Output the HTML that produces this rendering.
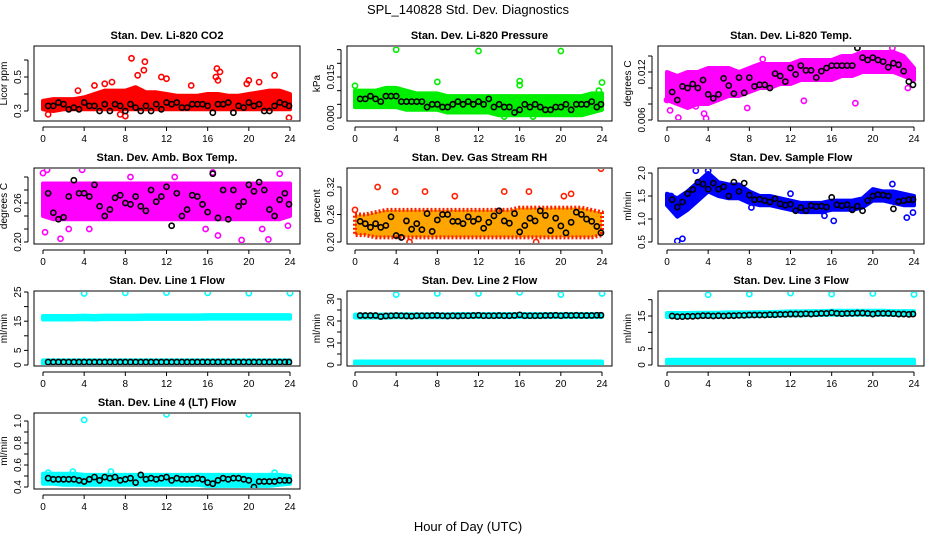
<!DOCTYPE html>
<html><head><meta charset="utf-8">
<style>
body{margin:0;background:#fff;}
svg{display:block;font-family:"Liberation Sans",sans-serif;}
</style></head>
<body>
<svg id="chart" width="936" height="540" viewBox="0 0 936 540">
<text x="468" y="14" text-anchor="middle" font-size="13">SPL_140828  Std. Dev. Diagnostics</text>
<text x="468" y="531" text-anchor="middle" font-size="13">Hour of Day (UTC)</text>
</svg>
<script>
const bandHours=[0,1,2,3,4,5,6,7,8,9,10,11,12,13,14,15,16,17,18,19,20,21,22,23,24];
const blackHours=[0.5,1,1.5,2,2.5,3,3.5,4,4.5,5,5.5,6,6.5,7,7.5,8,8.5,9,9.5,10,10.5,11,11.5,12,12.5,13,13.5,14,14.5,15,15.5,16,16.5,17,17.5,18,18.5,19,19.5,20,20.5,21,21.5,22,22.5,23,23.5,23.9];
const xTicks=[0,4,8,12,16,20,24];

const co2Lo=[0.31,0.30,0.31,0.31,0.31,0.31,0.31,0.31,0.31,0.31,0.31,0.31,0.31,0.31,0.31,0.31,0.31,0.31,0.31,0.31,0.31,0.31,0.31,0.31,0.31];
const co2Hi=[0.36,0.37,0.37,0.37,0.38,0.40,0.42,0.42,0.42,0.44,0.41,0.41,0.40,0.39,0.39,0.39,0.40,0.40,0.39,0.39,0.40,0.41,0.42,0.42,0.40];
const co2OutX=[8.6,9.9,9.8,6,6.7,9.2,11.5,12,16.9,17.2,16.8,17,22.5,20,19.8,23.9,8,3.4,5,14.4,21,7.5,0.5];
const co2OutY=[0.61,0.59,0.54,0.46,0.47,0.51,0.50,0.49,0.55,0.53,0.50,0.48,0.51,0.48,0.46,0.26,0.27,0.42,0.45,0.45,0.47,0.28,0.28];
const co2Black=[0.33,0.33,0.35,0.34,0.31,0.32,0.31,0.35,0.33,0.33,0.30,0.34,0.30,0.34,0.33,0.30,0.34,0.32,0.30,0.33,0.30,0.34,0.31,0.35,0.34,0.35,0.32,0.32,0.34,0.34,0.34,0.33,0.29,0.34,0.34,0.35,0.29,0.33,0.32,0.35,0.33,0.34,0.30,0.30,0.33,0.35,0.34,0.33];

const presLo=[0.004,0.004,0.004,0.004,0.004,0.003,0.003,0.003,0.003,0.002,0.002,0.002,0.002,0.002,0.001,0.001,0.001,0.001,0.001,0.001,0.001,0.001,0.001,0.002,0.003];
const presHi=[0.010,0.010,0.010,0.011,0.011,0.010,0.009,0.009,0.009,0.008,0.008,0.008,0.008,0.008,0.008,0.008,0.008,0.008,0.008,0.008,0.008,0.008,0.008,0.009,0.009];
const presOutX=[4,12,20,8,0,16,16,24,23.7,14.5,17.3];
const presOutY=[0.025,0.0245,0.0245,0.0132,0.0118,0.0135,0.012,0.013,0.010,0.0005,0.0005];
const presBlack=[0.007,0.007,0.008,0.007,0.006,0.008,0.008,0.008,0.006,0.006,0.006,0.006,0.006,0.004,0.005,0.005,0.004,0.004,0.005,0.006,0.005,0.006,0.005,0.006,0.005,0.007,0.004,0.005,0.004,0.004,0.002,0.003,0.005,0.004,0.005,0.004,0.003,0.003,0.004,0.004,0.005,0.003,0.005,0.005,0.005,0.006,0.004,0.005];

const tempLo=[0.0085,0.008,0.0075,0.008,0.008,0.0085,0.009,0.009,0.0095,0.0100,0.010,0.0105,0.0105,0.011,0.011,0.011,0.011,0.0115,0.0115,0.012,0.012,0.012,0.012,0.0115,0.011];
const tempHi=[0.012,0.0115,0.012,0.012,0.0125,0.0125,0.0125,0.012,0.0125,0.013,0.013,0.013,0.013,0.0135,0.0135,0.0135,0.0135,0.014,0.014,0.0145,0.0145,0.0145,0.0145,0.014,0.0125];
const tempOutX=[0.3,1.1,3.6,3.8,7.8,13.3,18.3,21.9,0,2.8,9.3,23.4];
const tempOutY=[0.0072,0.0063,0.0068,0.0062,0.0075,0.0084,0.0081,0.015,0.0085,0.0077,0.0136,0.0100];
const tempBlack=[0.0095,0.0085,0.0102,0.010,0.0105,0.010,0.011,0.0092,0.0087,0.0092,0.0112,0.0103,0.0093,0.0113,0.0094,0.0113,0.0102,0.0104,0.0104,0.010,0.0118,0.0115,0.0108,0.0125,0.0117,0.0128,0.0122,0.0122,0.0113,0.0121,0.0125,0.0128,0.0128,0.0128,0.0128,0.0128,0.015,0.0138,0.0135,0.0138,0.0135,0.0133,0.0126,0.0131,0.0129,0.0121,0.0108,0.0104];

const ambLo=[0.24,0.235,0.235,0.235,0.235,0.235,0.235,0.235,0.235,0.235,0.235,0.235,0.235,0.235,0.235,0.235,0.235,0.235,0.235,0.235,0.235,0.235,0.235,0.235,0.24];
const ambHi=[0.29,0.29,0.29,0.29,0.29,0.29,0.29,0.29,0.29,0.29,0.29,0.29,0.29,0.29,0.29,0.29,0.29,0.29,0.29,0.29,0.29,0.29,0.29,0.29,0.29];
const ambOutX=[0,0.4,1.7,0.2,19.3,21.9,3.8,16.5,23,2.5,4.5,15.8,17,21.3,8.5,12.8,23.8];
const ambOutY=[0.306,0.311,0.205,0.215,0.203,0.204,0.311,0.307,0.305,0.22,0.22,0.22,0.21,0.22,0.30,0.30,0.225];
const ambBlack=[0.275,0.245,0.235,0.238,0.27,0.295,0.275,0.275,0.27,0.288,0.255,0.24,0.25,0.268,0.272,0.26,0.258,0.27,0.255,0.248,0.28,0.262,0.27,0.285,0.225,0.275,0.24,0.25,0.272,0.27,0.258,0.246,0.305,0.237,0.28,0.235,0.28,0.255,0.262,0.288,0.278,0.292,0.28,0.25,0.24,0.265,0.275,0.258];

const rhLo=[0.215,0.215,0.21,0.21,0.21,0.21,0.21,0.21,0.21,0.21,0.21,0.21,0.21,0.21,0.21,0.21,0.21,0.21,0.21,0.21,0.21,0.21,0.21,0.21,0.215];
const rhHi=[0.26,0.26,0.265,0.27,0.27,0.27,0.27,0.27,0.27,0.27,0.27,0.27,0.27,0.27,0.27,0.27,0.275,0.275,0.275,0.275,0.275,0.275,0.275,0.27,0.265];
const rhOutX=[2.2,3.9,6.8,16.9,21,23.9,17.6,0,5.3,9.7,14.5,20.3];
const rhOutY=[0.32,0.31,0.31,0.31,0.305,0.36,0.20,0.27,0.20,0.30,0.31,0.30];
const rhBlack=[0.245,0.240,0.232,0.240,0.232,0.236,0.255,0.214,0.210,0.246,0.228,0.240,0.227,0.262,0.223,0.248,0.26,0.26,0.245,0.245,0.24,0.255,0.245,0.25,0.23,0.243,0.257,0.268,0.246,0.241,0.262,0.222,0.236,0.252,0.246,0.268,0.258,0.225,0.252,0.235,0.22,0.243,0.265,0.26,0.25,0.245,0.234,0.22];

const flowLo=[1.3,1.05,1.2,1.4,1.6,1.5,1.45,1.45,1.35,1.3,1.3,1.25,1.2,1.15,1.15,1.15,1.2,1.2,1.2,1.25,1.4,1.4,1.35,1.3,1.3];
const flowHi=[1.55,1.45,1.6,1.8,2.0,1.8,1.75,1.75,1.6,1.5,1.5,1.45,1.4,1.35,1.35,1.35,1.4,1.4,1.4,1.45,1.65,1.6,1.6,1.55,1.5];
const flowOutX=[1,1.5,2.8,4,23.3,23.9,16.2,15.3,12,21.9,8.2,0.4];
const flowOutY=[0.52,0.57,2.05,2.05,1.03,1.14,0.96,1.07,1.55,1.76,1.25,1.5];
const flowBlack=[1.42,1.26,1.37,1.55,1.64,1.8,1.76,1.65,1.78,1.65,1.70,1.50,1.80,1.60,1.78,1.52,1.42,1.43,1.40,1.37,1.44,1.33,1.30,1.32,1.18,1.25,1.18,1.29,1.27,1.28,1.26,1.47,1.31,1.29,1.31,1.20,1.28,1.18,1.40,1.50,1.53,1.52,1.50,1.22,1.38,1.40,1.42,1.42];

const l1HiLo=[15.6,15.6,15.6,15.6,15.7,15.6,15.7,15.7,15.7,15.7,15.8,15.8,15.8,15.8,15.8,15.8,15.9,15.9,15.9,15.9,15.9,15.9,15.9,15.9,15.9];
const l1HiHi=[16.8,16.8,16.8,16.8,16.9,16.8,16.9,16.9,16.9,16.9,17.0,17.0,17.0,17.0,17.0,17.0,17.1,17.1,17.1,17.1,17.1,17.1,17.1,17.1,17.1];
const l1LoLo=[0.4,0.4,0.4,0.4,0.4,0.4,0.4,0.4,0.4,0.4,0.4,0.4,0.4,0.4,0.4,0.4,0.4,0.4,0.4,0.4,0.4,0.4,0.4,0.4,0.4];
const l1LoHi=[1.6,1.6,1.6,1.6,1.6,1.6,1.6,1.6,1.6,1.6,1.6,1.6,1.6,1.6,1.6,1.6,1.6,1.6,1.6,1.6,1.6,1.6,1.6,1.6,1.6];
const l1OutX=[4,8,12,16,20,24];
const l1OutY=[24.5,24.7,24.8,24.7,24.6,24.6];
const l1Black=[1.0,1.0,1.0,1.0,1.0,1.0,1.0,1.0,1.0,1.0,1.0,1.0,1.0,1.0,1.0,1.0,1.0,1.0,1.0,1.0,1.0,1.0,1.0,1.0,1.0,1.0,1.0,1.0,1.0,1.0,1.0,1.0,1.0,1.0,1.0,1.0,1.0,1.0,1.0,1.0,1.0,1.0,1.0,1.0,1.0,1.0,1.0,1.0];

const l2HiLo=[21.6,21.6,21.6,21.6,21.7,21.7,21.7,21.7,21.7,21.7,21.8,21.8,21.8,21.8,21.8,21.8,21.8,21.8,21.8,21.8,21.8,21.8,21.8,21.8,21.8];
const l2HiHi=[22.9,22.9,22.9,22.9,23.0,23.0,23.0,23.0,23.0,23.0,23.1,23.1,23.1,23.1,23.1,23.1,23.1,23.1,23.1,23.1,23.1,23.1,23.1,23.1,23.1];
const l2LoLo=[0.2,0.2,0.2,0.2,0.2,0.2,0.2,0.2,0.2,0.2,0.2,0.2,0.2,0.2,0.2,0.2,0.2,0.2,0.2,0.2,0.2,0.2,0.2,0.2,0.2];
const l2LoHi=[1.6,1.6,1.6,1.6,1.6,1.6,1.6,1.6,1.6,1.6,1.6,1.6,1.6,1.6,1.6,1.6,1.6,1.6,1.6,1.6,1.6,1.6,1.6,1.6,1.6];
const l2OutX=[4,8,12,16,20,24];
const l2OutY=[32.0,32.5,32.5,33.0,32.0,32.5];
const l2Black=[22.5,22.5,22.5,22.5,22.0,22.3,22.4,22.5,22.4,22.3,22.2,22.4,22.4,22.4,22.5,22.5,22.4,22.3,22.4,22.3,22.4,22.4,22.5,22.6,22.4,22.4,22.4,22.5,22.4,22.4,22.5,22.8,22.4,22.4,22.4,22.4,22.5,22.5,22.6,22.4,22.6,22.5,22.6,22.5,22.5,22.5,22.6,22.6];

const l3HiLo=[14.7,14.7,14.7,14.8,14.8,14.8,14.9,14.9,14.9,15.0,15.0,15.1,15.2,15.2,15.3,15.3,15.4,15.4,15.4,15.4,15.4,15.4,15.3,15.3,15.3];
const l3HiHi=[15.9,15.9,15.9,16.0,16.0,16.0,16.1,16.1,16.1,16.2,16.2,16.3,16.4,16.4,16.5,16.5,16.6,16.6,16.6,16.6,16.6,16.6,16.5,16.5,16.5];
const l3LoLo=[0.2,0.2,0.2,0.2,0.2,0.2,0.2,0.2,0.2,0.2,0.2,0.2,0.2,0.2,0.2,0.2,0.2,0.2,0.2,0.2,0.2,0.2,0.2,0.2,0.2];
const l3LoHi=[1.6,1.6,1.6,1.6,1.6,1.6,1.6,1.6,1.6,1.6,1.6,1.6,1.6,1.6,1.6,1.6,1.6,1.6,1.6,1.6,1.6,1.6,1.6,1.6,1.6];
const l3OutX=[4,8,12,16,20,24];
const l3OutY=[21.5,21.7,22.0,21.7,21.9,21.6];
const l3Black=[15.0,14.8,14.8,14.9,14.9,15.0,15.1,15.1,15.0,15.1,15.0,15.1,15.1,15.2,15.2,15.3,15.3,15.3,15.3,15.4,15.4,15.5,15.5,15.6,15.6,15.6,15.7,15.6,15.7,15.8,15.8,16.0,15.8,15.7,15.8,15.8,15.9,15.9,15.8,15.6,15.8,15.8,15.8,15.7,15.6,15.6,15.5,15.6];

const l4Lo=[0.43,0.43,0.42,0.42,0.42,0.42,0.42,0.42,0.42,0.42,0.42,0.42,0.42,0.42,0.42,0.42,0.41,0.41,0.41,0.41,0.41,0.41,0.41,0.42,0.43];
const l4Hi=[0.52,0.52,0.52,0.52,0.51,0.51,0.51,0.51,0.51,0.51,0.51,0.51,0.51,0.51,0.51,0.51,0.51,0.51,0.51,0.51,0.51,0.51,0.51,0.51,0.50];
const l4OutX=[4,12,20,0.5,6.6,22.5,2.9];
const l4OutY=[1.01,1.06,1.06,0.53,0.54,0.53,0.54];
const l4Black=[0.48,0.47,0.47,0.47,0.47,0.47,0.46,0.45,0.47,0.49,0.46,0.49,0.48,0.49,0.46,0.47,0.48,0.44,0.51,0.47,0.48,0.47,0.48,0.49,0.46,0.48,0.47,0.47,0.47,0.48,0.47,0.44,0.43,0.46,0.48,0.47,0.48,0.48,0.47,0.46,0.40,0.45,0.45,0.45,0.45,0.46,0.46,0.46];

const NS='http://www.w3.org/2000/svg';
const svg=document.getElementById('chart');
function mk(tag,attrs,parent){const e=document.createElementNS(NS,tag);for(const k in attrs)e.setAttribute(k,attrs[k]);(parent||svg).appendChild(e);return e;}

const cols=[{bl:34,br:300,x0:43,x24:290},{bl:347,br:612,x0:355,x24:602},{bl:658,br:924,x0:667,x24:914}];
const rows=[{top:46,bot:121},{top:168,bot:244},{top:291,bot:366},{top:413,bot:489}];

const panels=[
 {id:'co2',title:'Stan. Dev. Li-820 CO2',ylab:'Licor ppm',c:0,r:0,v0:0.3,p0:111,v1:0.5,p1:77,ticks:[0.3,0.4,0.5,0.6],labels:['0.3','','0.5',''],color:'#ff0000',bands:[[co2Lo,co2Hi]],ox:co2OutX,oy:co2OutY,blk:co2Black},
 {id:'pressure',title:'Stan. Dev. Li-820 Pressure',ylab:'kPa',c:1,r:0,v0:0,p0:118,v1:0.015,p1:77,ticks:[0,0.005,0.01,0.015,0.02,0.025],labels:['0.000','','','0.015','',''],color:'#00ee00',bands:[[presLo,presHi]],ox:presOutX,oy:presOutY,blk:presBlack},
 {id:'temp',title:'Stan. Dev. Li-820 Temp.',ylab:'degrees C',c:2,r:0,v0:0.006,p0:120,v1:0.012,p1:72,ticks:[0.006,0.008,0.010,0.012,0.014],labels:['0.006','','','0.012',''],color:'#ff00ff',bands:[[tempLo,tempHi]],ox:tempOutX,oy:tempOutY,blk:tempBlack},
 {id:'amb',title:'Stan. Dev. Amb. Box Temp.',ylab:'degrees C',c:0,r:1,v0:0.20,p0:242,v1:0.26,p1:203,ticks:[0.20,0.22,0.24,0.26,0.28,0.30],labels:['0.20','','','0.26','',''],color:'#ff00ff',bands:[[ambLo,ambHi]],ox:ambOutX,oy:ambOutY,blk:ambBlack},
 {id:'rh',title:'Stan. Dev. Gas Stream RH',ylab:'percent',c:1,r:1,v0:0.20,p0:242,v1:0.32,p1:187,ticks:[0.20,0.26,0.32],labels:['0.20','0.26','0.32'],color:'#ffa500',edge:'#ff2000',bands:[[rhLo,rhHi]],ox:rhOutX,oy:rhOutY,blk:rhBlack},
 {id:'sample-flow',title:'Stan. Dev. Sample Flow',ylab:'ml/min',c:2,r:1,v0:0.5,p0:242,v1:2.0,p1:173,ticks:[0.5,1.0,1.5,2.0],labels:['0.5','1.0','1.5','2.0'],color:'#0000ff',bands:[[flowLo,flowHi]],ox:flowOutX,oy:flowOutY,blk:flowBlack},
 {id:'line1',title:'Stan. Dev. Line 1 Flow',ylab:'ml/min',c:0,r:2,v0:0,p0:365,v1:25,p1:292,ticks:[0,5,10,15,20,25],labels:['0','5','','15','','25'],color:'#00ffff',bands:[[l1HiLo,l1HiHi],[l1LoLo,l1LoHi]],ox:l1OutX,oy:l1OutY,blk:l1Black},
 {id:'line2',title:'Stan. Dev. Line 2 Flow',ylab:'ml/min',c:1,r:2,v0:0,p0:365,v1:30,p1:299,ticks:[0,5,10,15,20,25,30],labels:['0','','10','','20','','30'],color:'#00ffff',bands:[[l2HiLo,l2HiHi],[l2LoLo,l2LoHi]],ox:l2OutX,oy:l2OutY,blk:l2Black},
 {id:'line3',title:'Stan. Dev. Line 3 Flow',ylab:'ml/min',c:2,r:2,v0:0,p0:365,v1:15,p1:316,ticks:[0,5,10,15,20],labels:['0','5','','15',''],color:'#00ffff',bands:[[l3HiLo,l3HiHi],[l3LoLo,l3LoHi]],ox:l3OutX,oy:l3OutY,blk:l3Black},
 {id:'line4',title:'Stan. Dev. Line 4 (LT) Flow',ylab:'ml/min',c:0,r:3,v0:0.4,p0:487,v1:1.0,p1:421,ticks:[0.4,0.5,0.6,0.7,0.8,0.9,1.0],labels:['0.4','','0.6','','0.8','','1.0'],color:'#00ffff',bands:[[l4Lo,l4Hi]],ox:l4OutX,oy:l4OutY,blk:l4Black}
];

panels.forEach(p=>{
 const C=cols[p.c],R=rows[p.r];
 const g=mk('g',{});
 
 
 const xs=h=>C.x0+(C.x24-C.x0)*h/24;
 const ys=v=>p.p0+(p.p1-p.p0)*(v-p.v0)/(p.v1-p.v0);
 const clip='clip-'+p.id;
 const cp=mk('clipPath',{id:clip},g);
 mk('rect',{x:C.bl+1,y:R.top+1,width:C.br-C.bl-2,height:R.bot-R.top-2},cp);
 const inner=mk('g',{'clip-path':'url(#'+clip+')'},g);
 p.bands.forEach((b,bi)=>{
  const n=Math.min(bandHours.length,b[0].length,b[1].length);
  let pts=[];
  for(let i=0;i<n;i++)pts.push(xs(bandHours[i])+','+ys(b[1][i]));
  for(let i=n-1;i>=0;i--)pts.push(xs(bandHours[i])+','+ys(b[0][i]));
  const poly=mk('polygon',{points:pts.join(' '),fill:p.color,stroke:p.edge||p.color,'stroke-width':4,'stroke-linejoin':'round','stroke-dasharray':p.edge?'2 2':'none'},inner);
  
  
 });
 const no=Math.min(p.ox.length,p.oy.length);
 for(let i=0;i<no;i++){
  const c=mk('circle',{cx:xs(p.ox[i]),cy:ys(p.oy[i]),r:2.6,fill:'none',stroke:p.edge||p.color,'stroke-width':1.6},inner);
  
  
 }
 const nb=Math.min(blackHours.length,p.blk.length);
 for(let i=0;i<nb;i++){
  const c=mk('circle',{cx:xs(blackHours[i]),cy:ys(p.blk[i]),r:2.6,fill:'none',stroke:'#000','stroke-width':1.6},inner);
  
  
 }
 const box=mk('rect',{x:C.bl,y:R.top,width:C.br-C.bl,height:R.bot-R.top,fill:'none',stroke:'#000','stroke-width':1},g);
 
 
 const t=mk('text',{x:(C.bl+C.br)/2,y:R.top-7,'text-anchor':'middle','font-size':11,'font-weight':'bold'},g);
 t.textContent=p.title;
 
 
 const yb=R.bot+6;
 mk('line',{x1:C.x0,x2:C.x24,y1:yb,y2:yb,stroke:'#000'},g);
 xTicks.forEach(h=>{
  mk('line',{x1:xs(h),x2:xs(h),y1:yb,y2:yb+4,stroke:'#000'},g);
  const tl=mk('text',{x:xs(h),y:yb+15,'text-anchor':'middle','font-size':10},g);
  tl.textContent=h;
  
  
 });
 const ax=C.bl-6;
 const tv=p.ticks.filter(v=>ys(v)>=R.top-1&&ys(v)<=R.bot+1);
 mk('line',{x1:ax,x2:ax,y1:ys(tv[0]),y2:ys(tv[tv.length-1]),stroke:'#000'},g);
 p.ticks.forEach((v,i)=>{
  const y=ys(v);
  if(y<R.top-1||y>R.bot+1)return;
  mk('line',{x1:ax-4,x2:ax,y1:y,y2:y,stroke:'#000'},g);
  if(p.labels[i]){
   const tl=mk('text',{x:ax-7,y:y,'text-anchor':'middle','font-size':10,transform:'rotate(-90 '+(ax-7)+' '+y+')'},g);
   tl.textContent=p.labels[i];
   
   
  }
 });
 const ym=(R.top+R.bot)/2;
 const yl=mk('text',{x:ax-21,y:ym,'text-anchor':'middle','font-size':10,transform:'rotate(-90 '+(ax-21)+' '+ym+')'},g);
 yl.textContent=p.ylab;
 
 
});
</script>
</body></html>
